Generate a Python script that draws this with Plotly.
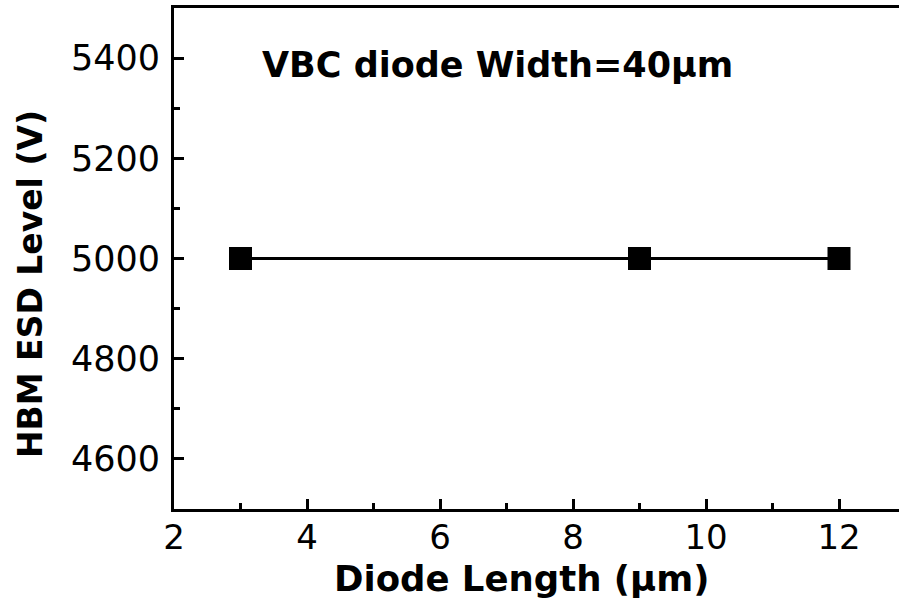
import plotly.graph_objects as go

diode_length = [3, 9, 12]
hbm_level = [5000, 5000, 5000]
x_tick_vals = [2, 4, 6, 8, 10, 12]
y_tick_vals = [4600, 4800, 5000, 5200, 5400]

FONT = "DejaVu Sans, Liberation Sans, Arial, sans-serif"

# plot area: x 174 .. 920 px (right side runs off the visible page as in the reference)
W, H = 920, 604
L, R, T, B = 174, 0, 8, 95
PW = W - L - R
PH = H - T - B

def px_x(px):
    return (px - L) / PW

def px_y(py):
    return (H - B - py) / PH

fig = go.Figure()
fig.add_trace(go.Scatter(
    x=diode_length, y=hbm_level, mode="lines+markers",
    line=dict(color="black", width=3),
    marker=dict(symbol="square", size=23, color="black"),
    showlegend=False, cliponaxis=False,
))

fig.update_layout(
    width=W, height=H,
    margin=dict(l=L, r=R, t=T, b=B, autoexpand=False),
    paper_bgcolor="white", plot_bgcolor="white",
    font=dict(family=FONT, color="black"),
    annotations=[
        dict(x=px_x(260), y=px_y(65), xref="paper", yref="paper",
             xanchor="left", yanchor="middle", showarrow=False,
             text="<b>VBC diode Width=40μm</b>",
             font=dict(family=FONT, size=35, color="black")),
        dict(x=px_x(521), y=px_y(578), xref="paper", yref="paper",
             xanchor="center", yanchor="middle", showarrow=False,
             text="<b>Diode Length (μm)</b>",
             font=dict(family=FONT, size=35.5, color="black")),
        dict(x=px_x(30), y=px_y(284), xref="paper", yref="paper",
             xanchor="center", yanchor="middle", showarrow=False, textangle=-90,
             text="<b>HBM ESD Level (V)</b>",
             font=dict(family=FONT, size=33, color="black")),
    ],
)

fig.update_xaxes(
    range=[2, 2 + PW / 66.5], tickvals=x_tick_vals, automargin=False,
    showline=True, linewidth=3, linecolor="black", mirror=True,
    ticks="inside", ticklen=10, tickwidth=3, tickcolor="black",
    minor=dict(ticks="inside", ticklen=6, tickwidth=3, dtick=1, tick0=3, tickcolor="black"),
    showgrid=False, zeroline=False,
    tickfont=dict(family=FONT, size=34), ticklabelstandoff=-4,
)
fig.update_yaxes(
    range=[4500, 5500], tickvals=y_tick_vals, automargin=False,
    showline=True, linewidth=3, linecolor="black", mirror=False,
    ticks="inside", ticklen=10, tickwidth=3, tickcolor="black",
    minor=dict(ticks="inside", ticklen=6, tickwidth=3, dtick=100, tick0=4500, tickcolor="black"),
    showgrid=False, zeroline=False,
    tickfont=dict(family=FONT, size=35), ticklabelstandoff=4,
)

fig.write_html(
    "out.html",
    config={"displayModeBar": False},
    post_script=(
        "document.body.style.margin='0';"
        "document.body.style.overflow='hidden';"
        "document.documentElement.style.overflow='hidden';"
    ),
)
